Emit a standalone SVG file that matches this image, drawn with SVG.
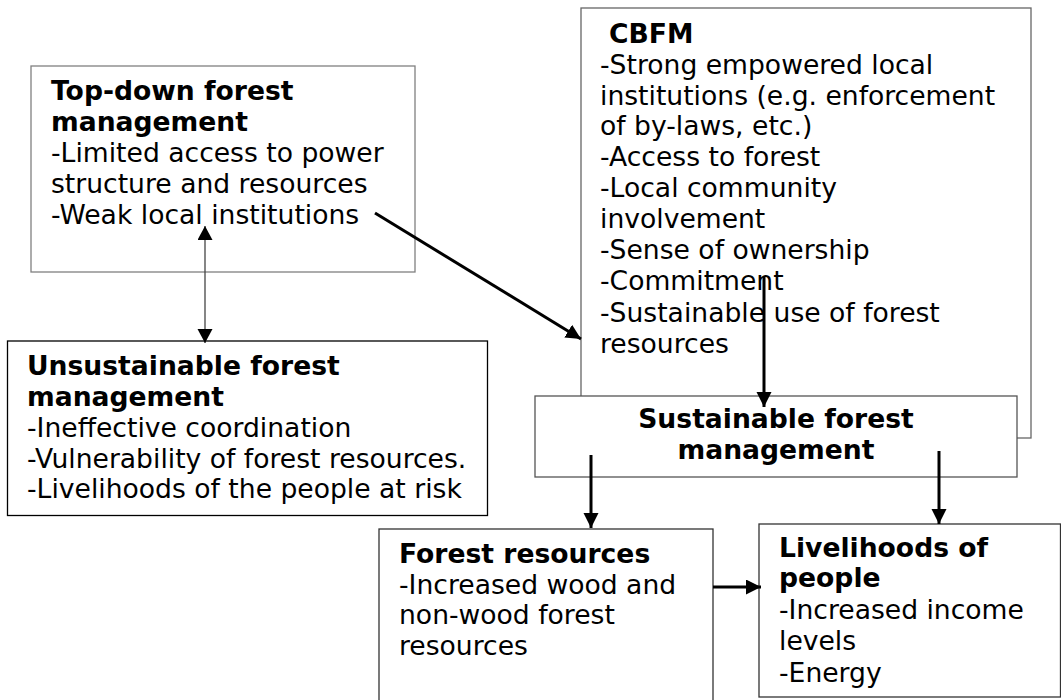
<svg xmlns="http://www.w3.org/2000/svg" width="1061" height="700" viewBox="0 0 1061 700">
<style>
  text { font-family: "DejaVu Sans", "Liberation Sans", sans-serif; font-size: 26.6px; fill: #000; }
  .b { font-weight: bold; }
  .box { fill: #fff; stroke-width: 1.3; }
  .thick { stroke: #000; stroke-width: 3; fill: none; marker-end: url(#ah); }
  .thin { stroke: #444; stroke-width: 1.3; fill: none; marker-start: url(#ahs); marker-end: url(#ahs); }
</style>
<defs>
  <marker id="ah" markerUnits="userSpaceOnUse" markerWidth="16" markerHeight="16" refX="15" refY="7.5" orient="auto" viewBox="0 0 16 16">
    <path d="M0,0 L15,7.5 L0,15 z" fill="#000"/>
  </marker>
  <marker id="ahs" markerUnits="userSpaceOnUse" markerWidth="16" markerHeight="16" refX="14" refY="7.5" orient="auto-start-reverse" viewBox="0 0 16 16">
    <path d="M0,0 L14,7.5 L0,15 z" fill="#000"/>
  </marker>
</defs>

<g id="top-down">
  <rect class="box" x="31" y="66" width="384" height="206" stroke="#808080"/>
  <text x="51" y="100" class="b">Top-down forest</text>
  <text x="51" y="131" class="b">management</text>
  <text x="51" y="162">-Limited access to power</text>
  <text x="51" y="193">structure and resources</text>
  <text x="51" y="224">-Weak local institutions</text>
</g>

<g id="unsustainable">
  <rect class="box" x="7.5" y="341" width="480" height="174.5" stroke="#000"/>
  <text x="27" y="375" class="b">Unsustainable forest</text>
  <text x="27" y="406" class="b">management</text>
  <text x="27" y="437">-Ineffective coordination</text>
  <text x="27" y="467.5">-Vulnerability of forest resources.</text>
  <text x="27" y="498">-Livelihoods of the people at risk</text>
</g>

<g id="cbfm">
  <rect class="box" x="581" y="8" width="450" height="430" stroke="#666"/>
  <text x="609" y="43" class="b">CBFM</text>
  <text x="600" y="73.5">-Strong empowered local</text>
  <text x="600" y="104.5">institutions (e.g. enforcement</text>
  <text x="600" y="135">of by-laws, etc.)</text>
  <text x="600" y="166">-Access to forest</text>
  <text x="600" y="197">-Local community</text>
  <text x="600" y="228">involvement</text>
  <text x="600" y="259">-Sense of ownership</text>
  <text x="600" y="290">-Commitment</text>
  <text x="600" y="321.5">-Sustainable use of forest</text>
  <text x="600" y="352.5">resources</text>
</g>

<g id="sustainable">
  <rect class="box" x="535" y="396" width="482" height="81" stroke="#555"/>
  <text x="776" y="428" class="b" text-anchor="middle">Sustainable forest</text>
  <text x="776" y="459" class="b" text-anchor="middle">management</text>
</g>

<g id="forest-resources">
  <rect class="box" x="379" y="529" width="334" height="180" stroke="#333"/>
  <text x="399" y="563" class="b">Forest resources</text>
  <text x="399" y="593.5">-Increased wood and</text>
  <text x="399" y="624">non-wood forest</text>
  <text x="399" y="655">resources</text>
</g>

<g id="livelihoods">
  <rect class="box" x="759" y="524" width="301.5" height="173" stroke="#333"/>
  <text x="779" y="557" class="b">Livelihoods of</text>
  <text x="779" y="587" class="b">people</text>
  <text x="779" y="619">-Increased income</text>
  <text x="779" y="650">levels</text>
  <text x="779" y="681.5">-Energy</text>
</g>

<g id="connectors">
  <line class="thin" x1="205" y1="226" x2="205" y2="343"/>
  <line class="thick" x1="375" y1="213" x2="581" y2="339"/>
  <line class="thick" x1="764" y1="277" x2="764" y2="407"/>
  <line class="thick" x1="591" y1="455" x2="591" y2="528"/>
  <line class="thick" x1="939" y1="451" x2="939" y2="524"/>
  <line class="thick" x1="713" y1="587" x2="761" y2="587"/>
</g>
</svg>
